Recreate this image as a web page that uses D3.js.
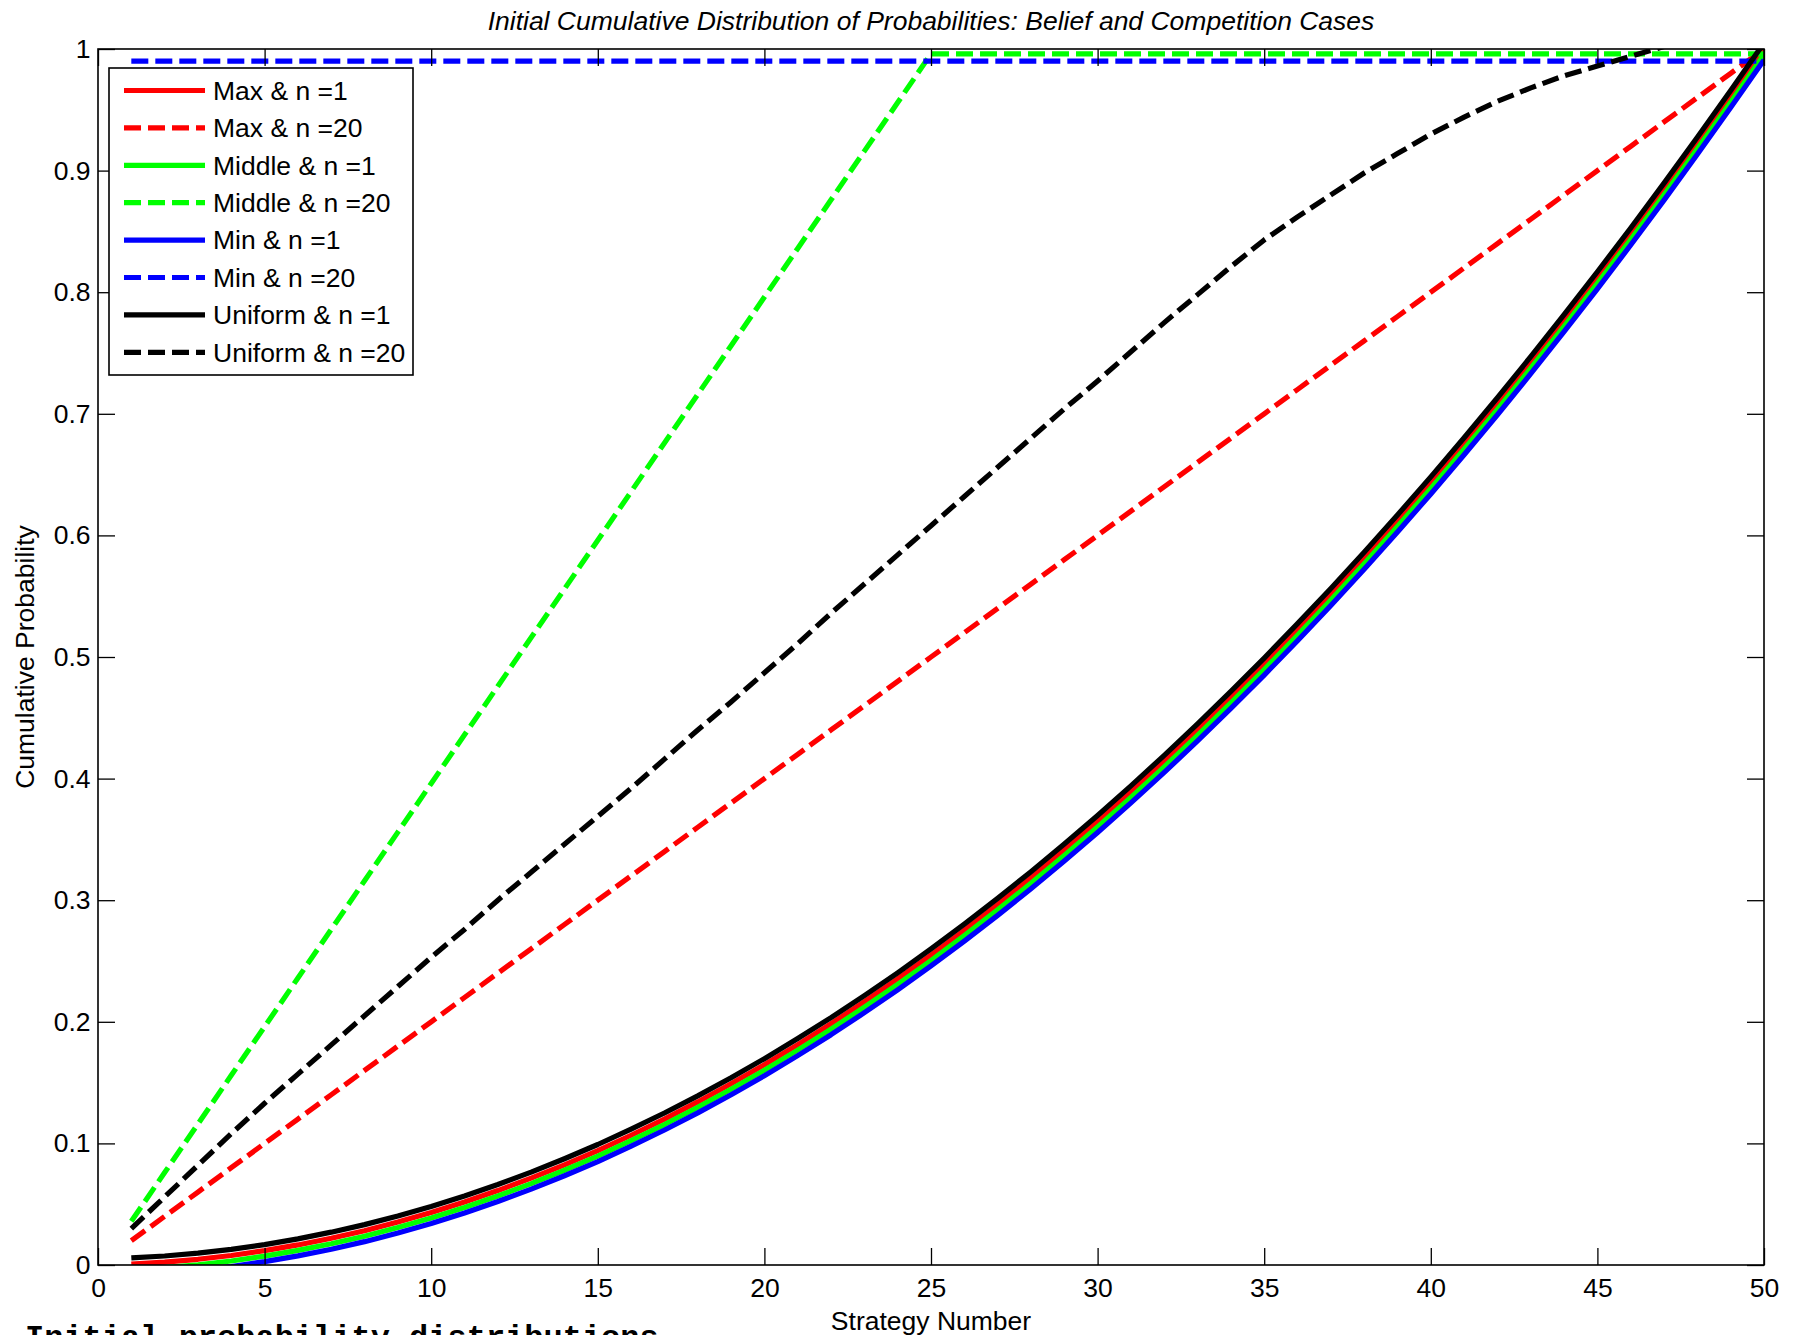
<!DOCTYPE html>
<html>
<head>
<meta charset="utf-8">
<script src="https://cdn.jsdelivr.net/npm/d3@7"></script>
<style>
  html, body { margin: 0; padding: 0; background: #fff; }
  svg { display: block; }
  text { font-family: "Liberation Sans", Arial, Helvetica, sans-serif; }
</style>
</head>
<body>
<svg id="chart" width="1794" height="1335"></svg>
<script>
// Strategy numbers 1..50
const strategies = [
  1, 2, 3, 4, 5, 6, 7, 8, 9, 10, 11, 12, 13, 14, 15, 16, 17, 18, 19, 20,
  21, 22, 23, 24, 25, 26, 27, 28, 29, 30, 31, 32, 33, 34, 35, 36, 37, 38, 39, 40,
  41, 42, 43, 44, 45, 46, 47, 48, 49, 50
];

// Cumulative probabilities, one array per case
const maxN1 = [
  0.0008, 0.0024, 0.0047, 0.0078, 0.0118, 0.0165, 0.0220, 0.0282, 0.0353, 0.0431,
  0.0518, 0.0612, 0.0714, 0.0824, 0.0941, 0.1067, 0.1200, 0.1341, 0.1490, 0.1647,
  0.1812, 0.1984, 0.2165, 0.2353, 0.2549, 0.2753, 0.2965, 0.3184, 0.3412, 0.3647,
  0.3890, 0.4141, 0.4400, 0.4667, 0.4941, 0.5224, 0.5514, 0.5812, 0.6118, 0.6431,
  0.6753, 0.7082, 0.7420, 0.7765, 0.8118, 0.8478, 0.8847, 0.9224, 0.9608, 1.0000
];
const maxN20 = [
  0.02, 0.04, 0.06, 0.08, 0.10, 0.12, 0.14, 0.16, 0.18, 0.20,
  0.22, 0.24, 0.26, 0.28, 0.30, 0.32, 0.34, 0.36, 0.38, 0.40,
  0.42, 0.44, 0.46, 0.48, 0.50, 0.52, 0.54, 0.56, 0.58, 0.60,
  0.62, 0.64, 0.66, 0.68, 0.70, 0.72, 0.74, 0.76, 0.78, 0.80,
  0.82, 0.84, 0.86, 0.88, 0.90, 0.92, 0.94, 0.96, 0.98, 1.00
];
const middleN1 = [
  -0.0037, -0.0021, 0.0002, 0.0033, 0.0073, 0.0120, 0.0175, 0.0237, 0.0308, 0.0386,
  0.0473, 0.0567, 0.0669, 0.0779, 0.0896, 0.1022, 0.1155, 0.1296, 0.1445, 0.1602,
  0.1767, 0.1939, 0.2120, 0.2308, 0.2504, 0.2708, 0.2920, 0.3139, 0.3367, 0.3602,
  0.3845, 0.4096, 0.4355, 0.4622, 0.4896, 0.5179, 0.5469, 0.5767, 0.6073, 0.6386,
  0.6708, 0.7037, 0.7375, 0.7720, 0.8073, 0.8433, 0.8802, 0.9179, 0.9563, 0.9955
];
const middleN20 = [
  0.036, 0.076, 0.116, 0.156, 0.196, 0.236, 0.276, 0.316, 0.356, 0.396,
  0.436, 0.476, 0.516, 0.556, 0.596, 0.636, 0.676, 0.716, 0.756, 0.796,
  0.836, 0.876, 0.916, 0.956, 0.996, 0.996, 0.996, 0.996, 0.996, 0.996,
  0.996, 0.996, 0.996, 0.996, 0.996, 0.996, 0.996, 0.996, 0.996, 0.996,
  0.996, 0.996, 0.996, 0.996, 0.996, 0.996, 0.996, 0.996, 0.996, 0.996
];
const minN1 = [
  -0.0082, -0.0066, -0.0043, -0.0012, 0.0028, 0.0075, 0.0130, 0.0192, 0.0263, 0.0341,
  0.0428, 0.0522, 0.0624, 0.0734, 0.0851, 0.0977, 0.1110, 0.1251, 0.1400, 0.1557,
  0.1722, 0.1894, 0.2075, 0.2263, 0.2459, 0.2663, 0.2875, 0.3094, 0.3322, 0.3557,
  0.3800, 0.4051, 0.4310, 0.4577, 0.4851, 0.5134, 0.5424, 0.5722, 0.6028, 0.6341,
  0.6663, 0.6992, 0.7330, 0.7675, 0.8028, 0.8388, 0.8757, 0.9134, 0.9518, 0.9910
];
const minN20 = [
  0.99, 0.99, 0.99, 0.99, 0.99, 0.99, 0.99, 0.99, 0.99, 0.99,
  0.99, 0.99, 0.99, 0.99, 0.99, 0.99, 0.99, 0.99, 0.99, 0.99,
  0.99, 0.99, 0.99, 0.99, 0.99, 0.99, 0.99, 0.99, 0.99, 0.99,
  0.99, 0.99, 0.99, 0.99, 0.99, 0.99, 0.99, 0.99, 0.99, 0.99,
  0.99, 0.99, 0.99, 0.99, 0.99, 0.99, 0.99, 0.99, 0.99, 0.99
];
const uniformN1 = [
  0.0058, 0.0074, 0.0097, 0.0128, 0.0168, 0.0215, 0.0270, 0.0332, 0.0403, 0.0481,
  0.0568, 0.0662, 0.0764, 0.0874, 0.0991, 0.1117, 0.1250, 0.1391, 0.1540, 0.1697,
  0.1862, 0.2034, 0.2215, 0.2403, 0.2599, 0.2803, 0.3015, 0.3234, 0.3462, 0.3697,
  0.3940, 0.4191, 0.4450, 0.4717, 0.4991, 0.5274, 0.5564, 0.5862, 0.6168, 0.6481,
  0.6803, 0.7132, 0.7470, 0.7815, 0.8168, 0.8528, 0.8897, 0.9274, 0.9658, 1.0050
];
const uniformN20 = [
  0.030, 0.056, 0.082, 0.108, 0.133, 0.157, 0.181, 0.205, 0.229, 0.253,
  0.276, 0.300, 0.323, 0.346, 0.369, 0.392, 0.416, 0.440, 0.463, 0.487,
  0.511, 0.536, 0.560, 0.584, 0.608, 0.632, 0.656, 0.680, 0.704, 0.727,
  0.751, 0.775, 0.798, 0.821, 0.843, 0.862, 0.880, 0.898, 0.914, 0.930,
  0.944, 0.957, 0.968, 0.978, 0.986, 0.994, 1.002, 1.009, 1.016, 1.023
];

const seriesNames = [
  "Max & n =1", "Max & n =20", "Middle & n =1", "Middle & n =20",
  "Min & n =1", "Min & n =20", "Uniform & n =1", "Uniform & n =20"
];
const seriesValues = [maxN1, maxN20, middleN1, middleN20, minN1, minN20, uniformN1, uniformN20];
const seriesColors = ["#ff0000", "#ff0000", "#00ff00", "#00ff00", "#0000ff", "#0000ff", "#000000", "#000000"];
const seriesDashed = [false, true, false, true, false, true, false, true];

const xTickValues = [0, 5, 10, 15, 20, 25, 30, 35, 40, 45, 50];
const yTickValues = [0, 0.1, 0.2, 0.3, 0.4, 0.5, 0.6, 0.7, 0.8, 0.9, 1];

const titleText = "Initial Cumulative Distribution of Probabilities: Belief and Competition Cases";
const xLabelText = "Strategy Number";
const yLabelText = "Cumulative Probability";
const captionText = "Initial probability distributions";

// Layout
const plot = { left: 98, right: 1764, top: 49, bottom: 1265 };
const fontSize = 26.5;
const tickLen = 17;
const lineW = 5.2;
const dash = "17,7";

const svg = d3.select("#chart");

const x = d3.scaleLinear().domain([0, 50]).range([plot.left, plot.right]);
const y = d3.scaleLinear().domain([0, 1]).range([plot.bottom, plot.top]);

svg.append("defs").append("clipPath").attr("id", "plotClip")
  .append("rect")
  .attr("x", plot.left).attr("y", plot.top)
  .attr("width", plot.right - plot.left).attr("height", plot.bottom - plot.top);

// Series lines
const line = d3.line()
  .x((d, i) => x(strategies[i]))
  .y(d => y(d));

const lines = svg.append("g").attr("clip-path", "url(#plotClip)");
seriesValues.forEach((vals, k) => {
  lines.append("path")
    .datum(vals)
    .attr("d", line)
    .attr("fill", "none")
    .attr("stroke", seriesColors[k])
    .attr("stroke-width", lineW)
    .attr("stroke-linejoin", "round")
    .attr("stroke-linecap", "butt")
    .attr("stroke-dasharray", seriesDashed[k] ? dash : null);
});

// Axes: inward ticks on all four sides
function styleAxis(g) {
  g.select(".domain").remove();
  g.selectAll(".tick line").attr("stroke", "#000").attr("stroke-width", 1.3);
  g.selectAll(".tick text")
    .attr("fill", "#000")
    .style("font-size", fontSize + "px")
    .style("font-family", "'Liberation Sans', Arial, Helvetica, sans-serif");
}

svg.append("g")
  .attr("transform", `translate(0,${plot.bottom})`)
  .call(d3.axisBottom(x).tickValues(xTickValues).tickSize(-tickLen).tickPadding(13.3).tickFormat(d3.format("d")))
  .call(styleAxis);

svg.append("g")
  .attr("transform", `translate(0,${plot.top})`)
  .call(d3.axisTop(x).tickValues(xTickValues).tickSize(-tickLen).tickFormat(""))
  .call(styleAxis);

svg.append("g")
  .attr("transform", `translate(${plot.left},0)`)
  .call(d3.axisLeft(y).tickValues(yTickValues).tickSize(-tickLen).tickPadding(7.5).tickFormat(d => d3.format("")(+d.toFixed(1))))
  .call(styleAxis);

svg.append("g")
  .attr("transform", `translate(${plot.right},0)`)
  .call(d3.axisRight(y).tickValues(yTickValues).tickSize(-tickLen).tickFormat(""))
  .call(styleAxis);

// Axes box
svg.append("rect")
  .attr("x", plot.left).attr("y", plot.top)
  .attr("width", plot.right - plot.left).attr("height", plot.bottom - plot.top)
  .attr("fill", "none").attr("stroke", "#000").attr("stroke-width", 1.6);

// Title and axis labels
svg.append("text")
  .attr("x", (plot.left + plot.right) / 2).attr("y", 29.5)
  .attr("text-anchor", "middle")
  .style("font-size", fontSize + "px").style("font-style", "italic")
  .text(titleText);

svg.append("text")
  .attr("x", (plot.left + plot.right) / 2).attr("y", 1330)
  .attr("text-anchor", "middle")
  .style("font-size", fontSize + "px")
  .text(xLabelText);

svg.append("text")
  .attr("transform", `translate(34,${(plot.top + plot.bottom) / 2}) rotate(-90)`)
  .attr("text-anchor", "middle")
  .style("font-size", fontSize + "px")
  .text(yLabelText);

// Legend
const legend = { x: 109, y: 68, w: 304, h: 307, rowY0: 90.5, rowStep: 37.4, lineX0: 124, lineX1: 205, textX: 213 };
const lg = svg.append("g");
lg.append("rect")
  .attr("x", legend.x).attr("y", legend.y)
  .attr("width", legend.w).attr("height", legend.h)
  .attr("fill", "#fff").attr("stroke", "#000").attr("stroke-width", 1.6);
seriesNames.forEach((name, k) => {
  const yy = legend.rowY0 + k * legend.rowStep;
  lg.append("line")
    .attr("x1", legend.lineX0).attr("x2", legend.lineX1)
    .attr("y1", yy).attr("y2", yy)
    .attr("stroke", seriesColors[k]).attr("stroke-width", lineW)
    .attr("stroke-dasharray", seriesDashed[k] ? dash : null);
  lg.append("text")
    .attr("x", legend.textX).attr("y", yy)
    .attr("dy", "0.35em")
    .style("font-size", fontSize + "px")
    .text(name);
});

// Caption running off the bottom edge of the figure
svg.append("text")
  .attr("x", 25).attr("y", 1347)
  .style("font-family", "'Liberation Mono', 'Courier New', monospace")
  .style("font-weight", "bold")
  .style("font-size", "32px")
  .text(captionText);
</script>
</body>
</html>
